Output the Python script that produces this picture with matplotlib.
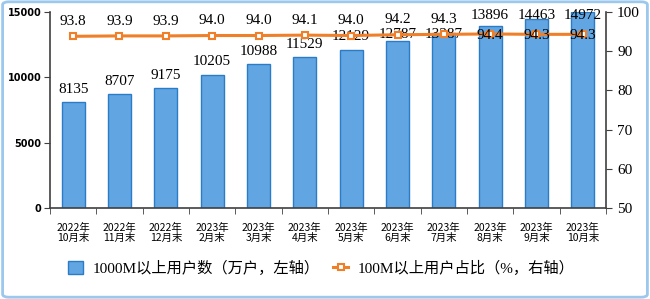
import matplotlib
matplotlib.use("Agg")
import matplotlib.pyplot as plt
from matplotlib.patches import FancyBboxPatch
import numpy as np

plt.rcParams['font.family'] = ['Liberation Serif', 'Noto Sans CJK SC', 'DejaVu Sans']

months = ['2022年\n10月末', '2022年\n11月末', '2022年\n12月末', '2023年\n2月末',
          '2023年\n3月末', '2023年\n4月末', '2023年\n5月末', '2023年\n6月末',
          '2023年\n7月末', '2023年\n8月末', '2023年\n9月末', '2023年\n10月末']
users_1000m = [8135, 8707, 9175, 10205, 10988, 11529, 12129, 12787, 13387, 13896, 14463, 14972]
share_100m = [93.8, 93.9, 93.9, 94.0, 94.0, 94.1, 94.0, 94.2, 94.3, 94.4, 94.3, 94.3]

bar_name = '1000M以上用户数（万户，左轴）'
line_name = '100M以上用户占比（%，右轴）'

fig = plt.figure(figsize=(6.5, 2.99), dpi=100)
ax = fig.add_axes((50 / 650, 1 - 208 / 299, 556 / 650, 196 / 299))
ax2 = ax.twinx()

x = np.arange(len(months))
bars = ax.bar(x, users_1000m, width=0.5, color='#62a5e3', edgecolor='#2b7cc6',
              linewidth=1.0, label=bar_name, zorder=2)
ax.set_xlim(-0.5, len(months) - 0.5)
ax.set_ylim(0, 15000)
ax.set_yticks([0, 5000, 10000, 15000])
ax.set_yticklabels(['0', '5000', '10000', '15000'], fontsize=7, fontweight='bold',
                   family=['DejaVu Sans'])
ax.set_xticks(x)
ax.set_xticklabels(months, fontsize=7.5, family=['Noto Sans CJK SC'], linespacing=1.0)
ax.set_xticks(np.arange(-0.5, len(months)), minor=True)
ax.tick_params(axis='x', which='major', length=0, pad=11)
ax.tick_params(axis='x', which='minor', length=4, color='#404040')
ax.tick_params(axis='y', length=4, color='#404040', pad=2)

# bar labels sit above the bars, but get squeezed under the line / top edge near the right
for i, (xi, v) in enumerate(zip(x, users_1000m)):
    ly = min(v + 970, 13250) if i < 9 else 14770
    ax.text(xi, ly, str(v), ha='center', va='center', fontsize=11, color='black', zorder=5)

line, = ax2.plot(x, share_100m, color='#f07f2a', linewidth=2.2, marker='s', markersize=5,
                 markerfacecolor='white', markeredgecolor='#f07f2a', markeredgewidth=1.5,
                 label=line_name, zorder=4)
ax2.set_ylim(50, 100)
ax2.set_yticks([50, 60, 70, 80, 90, 100])
ax2.tick_params(axis='y', labelsize=11, length=4, color='#404040', pad=4)

for i, (xi, v) in enumerate(zip(x, share_100m)):
    if i < 9:
        ax2.text(xi, v + 3.8, f'{v:.1f}', ha='center', va='center', fontsize=11, zorder=6)
    else:
        ax2.text(xi, v - 0.3, f'{v:.1f}', ha='center', va='center', fontsize=11, zorder=6)

for a in (ax, ax2):
    a.spines['top'].set_visible(False)
    for s in ('left', 'right', 'bottom'):
        a.spines[s].set_color('#404040')
        a.spines[s].set_linewidth(1.2)
ax.spines['right'].set_visible(False)
ax2.spines['left'].set_visible(False)
ax2.spines['bottom'].set_visible(False)

fig.legend(handles=[bars, line], labels=[bar_name, line_name], loc='center',
           bbox_to_anchor=(0.494, 1 - 268 / 299), ncol=2, frameon=False,
           handlelength=1.0, handleheight=1.0, columnspacing=0.9, handletextpad=0.6,
           prop={'family': ['Liberation Serif', 'Noto Sans CJK SC'], 'size': 11})

border = FancyBboxPatch((0.004, 0.006), 0.992, 0.988, boxstyle='round,pad=0,rounding_size=0.01',
                        transform=fig.transFigure, fill=False, edgecolor='#9cc8ee',
                        linewidth=2, zorder=10)
fig.patches.append(border)

fig.savefig('out.png', dpi=100)
